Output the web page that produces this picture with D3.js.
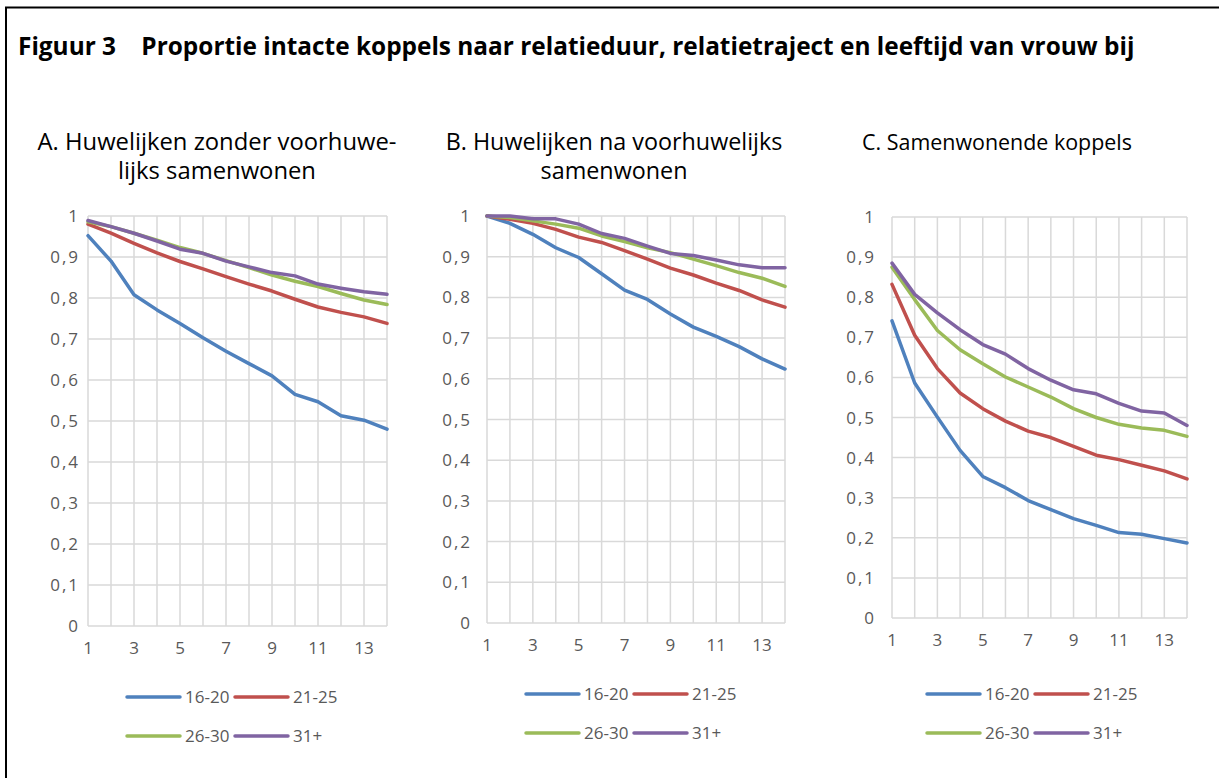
<!DOCTYPE html>
<html>
<head>
	<meta charset="utf-8">
	<script src="https://d3js.org/d3.v7.min.js"></script>
	<title>Figuur 3</title>
	<style>
		body { margin: 0; background: #fff; }
		svg { display: block; font-family: "Open Sans", "Liberation Sans", sans-serif; }
	</style>
</head>
<body>
	<div id="chart"></div>

	<script type="text/javascript">

		// relatieduur (jaren)
		var years = [1, 2, 3, 4, 5, 6, 7, 8, 9, 10, 11, 12, 13, 14];
		var xTickLabels = [1, 3, 5, 7, 9, 11, 13];
		var yTicks = [0, 0.1, 0.2, 0.3, 0.4, 0.5, 0.6, 0.7, 0.8, 0.9, 1];
		var groups = ["16-20", "21-25", "26-30", "31+"];
		var colors = ["#4f81bd", "#c0504d", "#9bbb59", "#8064a2"];

		// A. Huwelijken zonder voorhuwelijks samenwonen
		var a1620 = [0.952, 0.890, 0.808, 0.771, 0.738, 0.703, 0.670, 0.640, 0.610, 0.565, 0.547, 0.513, 0.502, 0.480];
		var a2125 = [0.980, 0.958, 0.933, 0.910, 0.889, 0.871, 0.852, 0.834, 0.817, 0.797, 0.778, 0.765, 0.754, 0.738];
		var a2630 = [0.986, 0.974, 0.958, 0.941, 0.923, 0.909, 0.891, 0.874, 0.856, 0.841, 0.828, 0.811, 0.795, 0.784];
		var a31 = [0.989, 0.974, 0.958, 0.939, 0.919, 0.909, 0.890, 0.876, 0.862, 0.854, 0.834, 0.824, 0.815, 0.809];

		// B. Huwelijken na voorhuwelijks samenwonen
		var b1620 = [1.0, 0.982, 0.955, 0.922, 0.898, 0.858, 0.818, 0.795, 0.759, 0.727, 0.704, 0.679, 0.649, 0.624];
		var b2125 = [1.0, 0.992, 0.982, 0.967, 0.948, 0.935, 0.915, 0.894, 0.872, 0.855, 0.835, 0.817, 0.794, 0.776];
		var b2630 = [1.0, 0.996, 0.988, 0.980, 0.970, 0.951, 0.937, 0.922, 0.910, 0.894, 0.878, 0.861, 0.847, 0.827];
		var b31 = [1.0, 1.0, 0.993, 0.993, 0.980, 0.957, 0.945, 0.926, 0.908, 0.903, 0.892, 0.880, 0.873, 0.873];

		// C. Samenwonende koppels
		var c1620 = [0.741, 0.586, 0.501, 0.418, 0.353, 0.325, 0.293, 0.270, 0.248, 0.231, 0.213, 0.209, 0.198, 0.187];
		var c2125 = [0.832, 0.705, 0.622, 0.561, 0.522, 0.491, 0.466, 0.450, 0.428, 0.406, 0.395, 0.381, 0.367, 0.347];
		var c2630 = [0.875, 0.794, 0.717, 0.669, 0.634, 0.601, 0.576, 0.551, 0.522, 0.500, 0.483, 0.474, 0.468, 0.453];
		var c31 = [0.885, 0.807, 0.761, 0.719, 0.682, 0.658, 0.622, 0.593, 0.569, 0.559, 0.535, 0.516, 0.511, 0.480];

		var title = "Figuur 3    Proportie intacte koppels naar relatieduur, relatietraject en leeftijd van vrouw bij";

		var panels = [
			{ lines: ["A. Huwelijken zonder voorhuwe-", "lijks samenwonen"], series: [a1620, a2125, a2630, a31],
			  left: 88, right: 387, top: 216, bottom: 626, labelX: 78, tickY: 654, titleX: 217, titleW: 359,
			  legX: 127, legY: 697 },
			{ lines: ["B. Huwelijken na voorhuwelijks", "samenwonen"], series: [b1620, b2125, b2630, b31],
			  left: 487, right: 785, top: 216, bottom: 623, labelX: 470, tickY: 651, titleX: 614, titleW: 337,
			  legX: 526, legY: 694 },
			{ lines: ["C. Samenwonende koppels"], series: [c1620, c2125, c2630, c31],
			  left: 892, right: 1187, top: 217, bottom: 618, labelX: 874, tickY: 646, titleX: 997, titleW: 270,
			  legX: 927, legY: 694 }
		];

		var width = 1219, height = 778;
		var nl = d3.formatLocale({ decimal: ",", thousands: ".", grouping: [3], currency: ["€", ""] });
		var fmt = nl.format(".1~f");

		var svg = d3.select("#chart").append("svg")
			.attr("width", width)
			.attr("height", height);

		// frame
		svg.append("path")
			.attr("d", "M6," + height + "V7.5H" + width)
			.attr("fill", "none")
			.attr("stroke", "#000")
			.attr("stroke-width", 2);

		// scale font size so text spans the wanted width
		function fitWidth(sel, w) {
			var len = sel.node().getComputedTextLength();
			var fs = parseFloat(sel.attr("font-size"));
			sel.attr("font-size", fs * w / len);
		}

		var t = svg.append("text")
			.attr("x", 18)
			.attr("y", 55)
			.attr("font-size", 22)
			.attr("font-weight", "bold")
			.attr("fill", "#000")
			.attr("xml:space", "preserve")
			.style("white-space", "pre")
			.text(title);
		fitWidth(t, 1117);

		panels.forEach(function(p) {
			var g = svg.append("g");

			var xScale = d3.scaleLinear()
				.domain([d3.min(years), d3.max(years)])
				.range([p.left, p.right]);

			var yScale = d3.scaleLinear()
				.domain([0, 1])
				.range([p.bottom, p.top]);

			// subtitle
			p.lines.forEach(function(line, i) {
				var st = g.append("text")
					.attr("x", p.titleX)
					.attr("y", 150 + i * 29)
					.attr("text-anchor", "middle")
					.attr("font-size", 20)
					.attr("fill", "#000")
					.text(line);
				if (i == 0) fitWidth(st, p.titleW);
				else st.attr("font-size", g.select("text").attr("font-size"));
			});

			// grid
			g.selectAll(".hgrid")
				.data(yTicks).enter().append("line")
				.attr("x1", p.left).attr("x2", p.right)
				.attr("y1", function(d) { return yScale(d); })
				.attr("y2", function(d) { return yScale(d); })
				.attr("stroke", "#d9d9d9")
				.attr("stroke-width", 1.5);

			g.selectAll(".vgrid")
				.data(years).enter().append("line")
				.attr("x1", function(d) { return xScale(d); })
				.attr("x2", function(d) { return xScale(d); })
				.attr("y1", p.top).attr("y2", p.bottom)
				.attr("stroke", "#d9d9d9")
				.attr("stroke-width", 1.5);

			// y labels (a bit of spacing, the comma is wide in the original)
			g.selectAll(".ylab")
				.data(yTicks).enter().append("text")
				.attr("x", p.labelX + 2)
				.attr("y", function(d) { return yScale(d) + 6; })
				.attr("text-anchor", "end")
				.attr("font-size", 17)
				.attr("letter-spacing", 2)
				.attr("fill", "#595959")
				.text(function(d) { return fmt(d); });

			// x labels
			g.selectAll(".xlab")
				.data(xTickLabels).enter().append("text")
				.attr("x", function(d) { return xScale(d); })
				.attr("y", p.tickY)
				.attr("text-anchor", "middle")
				.attr("font-size", 17)
				.attr("fill", "#595959")
				.text(function(d) { return d; });

			var line = d3.line()
				.x(function(d, i) { return xScale(years[i]); })
				.y(function(d) { return yScale(d); });

			g.selectAll(".serie")
				.data(p.series).enter().append("path")
				.attr("d", line)
				.attr("fill", "none")
				.attr("stroke", function(d, i) { return colors[i]; })
				.attr("stroke-width", 3.5)
				.attr("stroke-linejoin", "round")
				.attr("stroke-linecap", "round");

			// legend, two by two
			var leg = g.selectAll(".leg")
				.data(groups).enter().append("g")
				.attr("transform", function(d, i) {
					return "translate(" + (p.legX + (i % 2) * 108) + "," + (p.legY + Math.floor(i / 2) * 39) + ")";
				});

			leg.append("line")
				.attr("x1", 0).attr("x2", 53)
				.attr("stroke", function(d, i) { return colors[i]; })
				.attr("stroke-width", 3.5)
				.attr("stroke-linecap", "round");

			leg.append("text")
				.attr("x", 58)
				.attr("y", 6)
				.attr("font-size", 17)
				.attr("fill", "#595959")
				.text(function(d) { return d; });
		});

	</script>

</body>
</html>
